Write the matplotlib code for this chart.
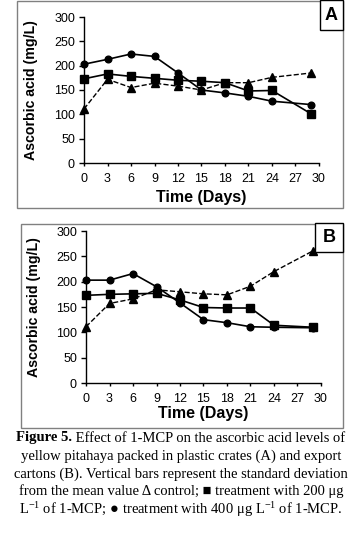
import numpy as np
import matplotlib
import matplotlib.pyplot as plt
from matplotlib.patches import Rectangle

matplotlib.rcParams['font.family'] = ['Liberation Sans', 'DejaVu Sans']
matplotlib.rcParams['mathtext.default'] = 'regular'

# Data
days = [0, 3, 6, 9, 12, 15, 18, 21, 24, 29]

a_control = [111, 172, 155, 164, 158, 150, 165, 165, 176, 185]
a_200 = [173, 183, 178, 174, 170, 168, 165, 148, 149, 101]
a_400 = [203, 213, 224, 219, 185, 150, 144, 137, 127, 120]

b_control = [111, 157, 166, 184, 180, 176, 174, 191, 220, 261]
b_200 = [173, 175, 176, 177, 164, 149, 148, 148, 114, 110]
b_400 = [203, 203, 216, 190, 158, 125, 119, 111, 110, 109]

x_ticks = list(range(0, 31, 3))
y_ticks = list(range(0, 301, 50))

W, H = 362, 557
fig = plt.figure(figsize=(W / 100, H / 100), dpi=100)


def px_rect(x0, y0, x1, y1):
    # pixel box (top-left origin) -> figure fraction [l, b, w, h]
    return [x0 / W, 1 - y1 / H, (x1 - x0) / W, (y1 - y0) / H]


def panel(ax_box, frame_box, tag_box, tag, label_xy, control, t200, t400):
    l, b, w, h = px_rect(*frame_box)
    fig.patches.append(Rectangle((l, b), w, h, transform=fig.transFigure,
                                 fill=False, ec='#808080', lw=1.0))
    l, b, w, h = px_rect(*tag_box)
    fig.patches.append(Rectangle((l, b), w, h, transform=fig.transFigure,
                                 fill=True, fc='white', ec='black', lw=1.0, zorder=5))
    fig.text(l + w / 2, b + h / 2, tag, ha='center', va='center',
             fontsize=13, fontweight='bold', zorder=6)

    ax = fig.add_axes(px_rect(*ax_box))
    ax.plot(days, control, '--', color='black', lw=1.0, marker='^', ms=5.2, clip_on=False)
    ax.plot(days, t200, '-', color='black', lw=1.2, marker='s', ms=5.5, clip_on=False)
    ax.plot(days, t400, '-', color='black', lw=1.2, marker='o', ms=4.8, clip_on=False)

    ax.set_xlim(0, 30)
    ax.set_ylim(0, 300)
    ax.set_xticks(x_ticks)
    ax.set_yticks(y_ticks)
    ax.spines['top'].set_visible(False)
    ax.spines['right'].set_visible(False)
    ax.spines['left'].set_linewidth(1.0)
    ax.spines['bottom'].set_linewidth(1.0)
    ax.tick_params(axis='y', direction='out', length=3.5, width=1.0,
                   labelsize=9, pad=3)
    ax.tick_params(axis='x', direction='out', length=2.5, width=1.0,
                   labelsize=9, pad=4.5)
    ax.set_ylabel('Ascorbic acid (mg/L)', fontsize=10.2, fontweight='bold', va='center')
    ax.set_xlabel('Time (Days)', fontsize=11.5, fontweight='bold', va='center')
    ax.yaxis.set_label_coords(label_xy[0], 0.5)
    ax.xaxis.set_label_coords(0.5, label_xy[1])
    ax.patch.set_alpha(0)
    return ax


panel((84, 17, 319, 163), (17, 1, 343, 208), (320, 0, 343, 30), 'A',
      (-0.226, -0.233), a_control, a_200, a_400)
panel((86, 231, 321, 383), (21, 224, 343, 428), (315, 223, 343, 252), 'B',
      (-0.221, -0.2), b_control, b_200, b_400)

# Caption
serif = ['Liberation Serif', 'DejaVu Serif']
cap_size = 10.5
renderer = fig.canvas.get_renderer()

bold_part = 'Figure 5.'
rest_part = ' Effect of 1-MCP on the ascorbic acid levels of'
y1 = 1 - 438 / H
t_bold = fig.text(0, y1, bold_part, family=serif, fontsize=cap_size,
                  fontweight='bold', va='center', ha='left')
t_rest = fig.text(0, y1, rest_part, family=serif, fontsize=cap_size,
                  va='center', ha='left')
wb = t_bold.get_window_extent(renderer).width
wr = t_rest.get_window_extent(renderer).width
x_start = (181 - (wb + wr) / 2) / W
t_bold.set_x(x_start)
t_rest.set_x(x_start + wb / W)

lines = [
    'yellow pitahaya packed in plastic crates (A) and export',
    'cartons (B). Vertical bars represent the standard deviation',
    'from the mean value \u0394 control; \u25a0 treatment with 200 \u03bcg',
    'L$^{-1}$ of 1-MCP; \u25cf treatment with 400 \u03bcg L$^{-1}$ of 1-MCP.',
]
for i, line in enumerate(lines):
    fig.text(181 / W, 1 - (456 + 17.8 * i) / H, line, family=serif,
             fontsize=cap_size, ha='center', va='center')

fig.savefig('out.png', dpi=100)
